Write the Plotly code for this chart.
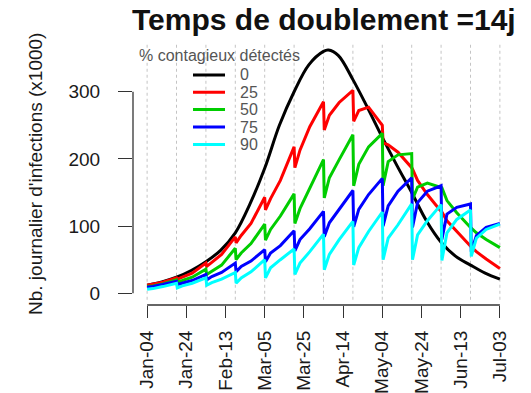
import pandas as pd
import plotly.graph_objects as go

# ---------------- data ----------------
start_date = "2021-01-04"
tick_days = [0, 20, 40, 60, 80, 100, 120, 140, 160, 180]
grid_days = [0, 15, 30, 45, 60, 75, 90, 105, 120, 135, 150, 165, 180]
y_ticks = [0, 100, 200, 300]

black_days = [0, 7.5, 15, 22.5, 30, 37.5, 45, 52.5, 60, 67.5, 75, 82.5, 90, 92.5,
              97.5, 105, 112.5, 120, 127.5, 135, 142.5, 150, 157.5, 165, 172.5, 180]
black_vals = [12, 17, 24, 34, 47, 64, 90, 133, 186, 250, 300, 340, 360, 362,
              354, 318, 276, 232, 190, 150, 108, 76, 55, 42, 30, 21]

det_days = [0, 3, 8, 15, 15.4, 18, 23, 30, 30.4, 33, 38, 45, 45.4, 48, 53, 60, 60.4,
            63, 68, 75, 75.4, 78, 83, 90, 90.4, 93, 98, 105, 105.4, 108, 113, 120,
            120.4, 123, 128, 135, 135.4, 138, 143, 150, 150.4, 153, 158, 165, 165.4,
            168, 173, 180]
red_vals = [12, 13.5, 16.5, 23, 21, 24, 30, 45, 40, 46, 58, 84, 75, 86, 104, 143, 124,
            141, 168, 218, 187, 213, 248, 285, 243, 265, 284, 302, 256, 272, 277, 250,
            224, 221, 210, 187, 185, 168, 147, 122, 121, 108, 92, 70, 69, 62, 51, 37]
green_vals = [10, 11, 14, 20, 17, 19, 24, 36, 28, 33, 42, 67, 50, 60, 74, 103, 79,
              95, 115, 148, 104, 126, 157, 199, 142, 172, 199, 236, 160, 192, 218, 238,
              160, 196, 206, 208, 140, 158, 164, 158, 157, 138, 120, 98, 97, 90, 80, 68]
blue_vals = [9, 10, 13, 18, 13, 15, 19, 28, 20, 25, 31, 45, 32, 40, 48, 65, 47,
             60, 71, 93, 63, 80, 96, 122, 84, 105, 125, 153, 99, 125, 147, 171,
             100, 130, 152, 172, 98, 135, 152, 160, 80, 118, 128, 133, 62, 86, 98, 104]
cyan_vals = [6, 7, 10, 15, 8, 11, 15, 23, 12, 16, 21, 31, 15, 23, 32, 50, 23,
             38, 50, 66, 28, 45, 62, 88, 35, 58, 80, 107, 42, 68, 92, 121,
             50, 82, 102, 133, 50, 87, 108, 132, 49, 90, 110, 124, 55, 82, 95, 103]

series_names = ["0", "25", "50", "75", "90"]
series_colors = ["#000000", "#FF0000", "#00CD00", "#0000FF", "#00FFFF"]

# ---------------- helpers ----------------
base = pd.Timestamp(start_date)
def to_dates(days):
    return base + pd.to_timedelta(days, unit="D")
def to_str(day):
    return (base + pd.Timedelta(days=day)).strftime("%Y-%m-%d %H:%M:%S")

FONT = "Liberation Sans, Arial, Helvetica, sans-serif"
AX = "#333333"

fig = go.Figure()

series = [(black_days, black_vals), (det_days, red_vals), (det_days, green_vals),
          (det_days, blue_vals), (det_days, cyan_vals)]
for i, (d, v) in enumerate(series):
    fig.add_trace(go.Scatter(
        x=to_dates(d), y=v, mode="lines", name=series_names[i],
        line=dict(color=series_colors[i], width=3,
                  shape="spline" if i == 0 else "linear"),
        showlegend=False, hoverinfo="skip"))

d_min, d_max = min(tick_days), max(tick_days)
pad = 0.04 * (d_max - d_min)
x_range = [to_str(d_min - pad), to_str(d_max + pad)]
y_range = [-17.4, 372.5]
def day_to_paper(d):
    return (d - (d_min - pad)) / ((d_max - d_min) + 2 * pad)

fig.update_layout(
    width=531, height=393,
    margin=dict(l=133, r=17, t=43, b=88),
    paper_bgcolor="white", plot_bgcolor="white",
    font=dict(family=FONT, size=19, color="#1a1a1a"),
    xaxis=dict(
        type="date", range=x_range, showgrid=False, zeroline=False, showline=False,
        automargin=False,
        tickmode="array", tickvals=[to_str(d) for d in tick_days],
        ticktext=[t.strftime("%b-%d") for t in to_dates(tick_days)],
        ticks="outside", ticklen=12, tickwidth=1.3, tickcolor=AX,
        tickangle=-90, ticklabelstandoff=5,
        tickfont=dict(family=FONT, size=19, color="#1a1a1a"),
    ),
    yaxis=dict(
        range=y_range, showgrid=False, zeroline=False, showline=False,
        automargin=False,
        tickmode="array", tickvals=y_ticks,
        ticks="outside", ticklen=14, tickwidth=1.3, tickcolor=AX,
        ticklabelstandoff=14,
        tickfont=dict(family=FONT, size=19, color="#1a1a1a"),
    ),
)

# dotted vertical grid every 15 days
for d in grid_days:
    fig.add_shape(type="line", xref="x", yref="paper", x0=to_str(d), x1=to_str(d),
                  y0=0.02, y1=1, layer="below",
                  line=dict(color="#c4c4c4", width=1, dash="dot"))

# R-style detached axis lines
fig.add_shape(type="line", xref="paper", yref="y", x0=0, x1=0,
              y0=min(y_ticks), y1=max(y_ticks), line=dict(color=AX, width=1.3))
fig.add_shape(type="line", xref="paper", yref="paper",
              x0=day_to_paper(d_min), x1=day_to_paper(d_max),
              y0=0, y1=0, line=dict(color=AX, width=1.3))

# title and y label
fig.add_annotation(text="<b>Temps de doublement =14j</b>", xref="paper", yref="paper",
                   x=0.5, y=1.088, xanchor="center", yanchor="middle", showarrow=False,
                   font=dict(family=FONT, size=30, color="#111111"))
fig.add_annotation(text="Nb. journalier d'infections (x1000)", xref="paper", yref="paper",
                   x=0, y=0.5, xshift=-98, xanchor="center", yanchor="middle",
                   textangle=-90, showarrow=False,
                   font=dict(family=FONT, size=19, color="#1a1a1a"))

# legend (R-style, inside plot)
leg_color = "#555555"
fig.add_annotation(text="% contagieux détectés", xref="paper", yref="paper",
                   x=0.0105, y=0.954, xanchor="left", yanchor="middle", showarrow=False,
                   font=dict(family=FONT, size=16, color=leg_color))
row_y = [0.878, 0.812, 0.746, 0.679, 0.613]
for i, name in enumerate(series_names):
    fig.add_shape(type="line", xref="paper", yref="paper",
                  x0=0.1575, x1=0.2415, y0=row_y[i], y1=row_y[i],
                  line=dict(color=series_colors[i], width=3))
    fig.add_annotation(text=name, xref="paper", yref="paper",
                       x=0.2756, y=row_y[i], xanchor="left", yanchor="middle",
                       showarrow=False, font=dict(family=FONT, size=16, color=leg_color))

fig.write_html("out.html")
